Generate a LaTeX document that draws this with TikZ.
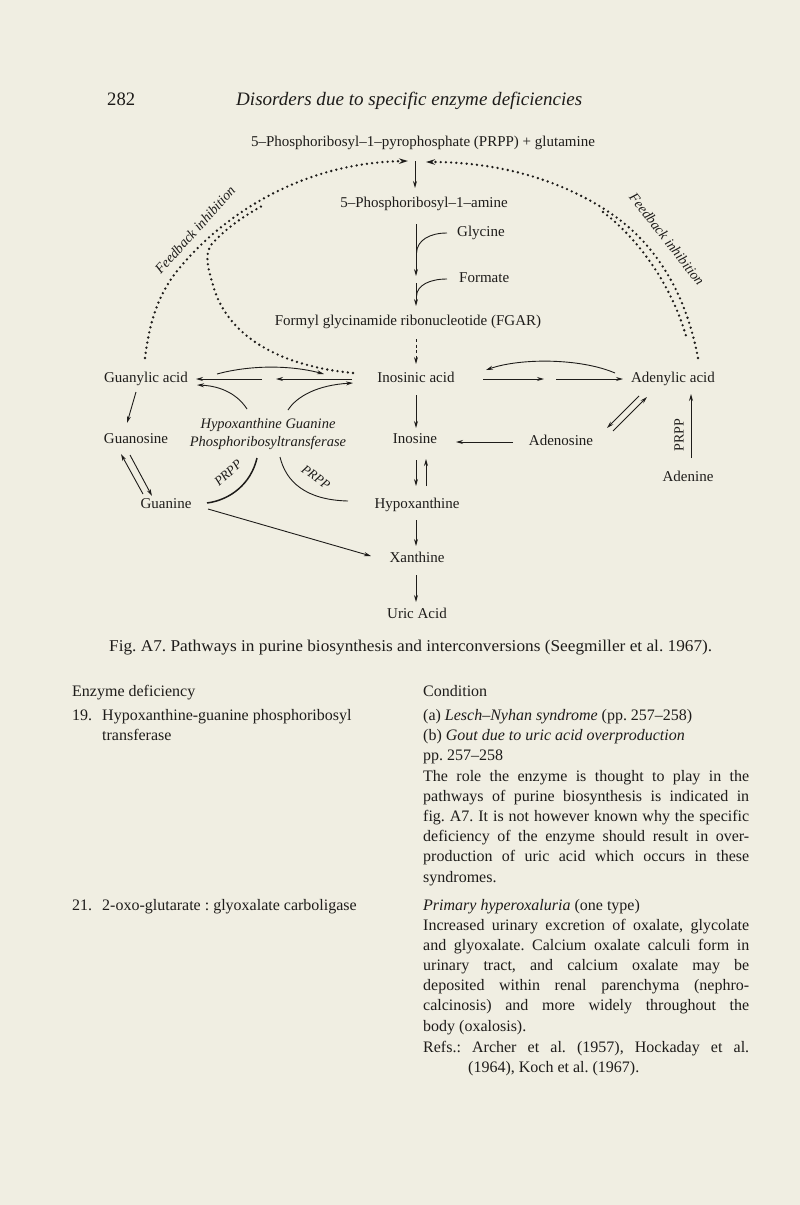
\documentclass[tikz,border=0pt]{standalone}
\usepackage{fontspec}
\setmainfont{Liberation Serif}
\usepackage{graphicx}
\usetikzlibrary{arrows.meta}
\definecolor{paper}{RGB}{240,238,226}
\definecolor{ink}{RGB}{30,28,26}
\frenchspacing
\begin{document}
\begin{tikzpicture}[x=1pt,y=-1pt,
  every node/.style={inner sep=0pt, text=ink},
  lbl/.style={font=\fontsize{15}{18}\selectfont, text height=10pt, text depth=3pt},
  body/.style={font=\fontsize{16}{20}\selectfont, anchor=base west},
  conn/.style={draw=ink, line width=0.9pt, -{Stealth[length=7pt,width=4pt]}},
  lineonly/.style={draw=ink, line width=0.9pt},
  fb/.style={draw=ink, line width=2.6pt, line cap=round, dash pattern=on 0pt off 5.2pt},
  fbtip/.style={-{Stealth[length=9pt,width=5.5pt]}},
  fblabel/.style={font=\fontsize{14}{16}\selectfont\itshape},
  prlabel/.style={font=\fontsize{13}{15}\selectfont\itshape},
]
\fill[paper] (0,0) rectangle (800,1205);
\useasboundingbox (0,0) rectangle (800,1205);

% ---------- running head ----------
\node[anchor=base west, font=\fontsize{19}{22}\selectfont] (pageno) at (107,105) {\resizebox{28pt}{\height}{282}};
\node[anchor=base west, font=\fontsize{19}{22}\selectfont\itshape] (runhead) at (236,105) {\resizebox{346pt}{\height}{Disorders due to specific enzyme deficiencies}};

% ---------- diagram nodes ----------
\node[lbl] (prpp) at (423,143) {5–Phosphoribosyl–1–pyrophosphate (PRPP) + glutamine};
\node[lbl] (amine) at (424,204) {5–Phosphoribosyl–1–amine};
\node[lbl, anchor=west] (glycine) at (457,233) {Glycine};
\node[lbl, anchor=west] (formate) at (459,279) {Formate};
\node[lbl] (fgar) at (408,322) {Formyl glycinamide ribonucleotide (FGAR)};
\node[lbl] (guanylic) at (146,379) {Guanylic acid};
\node[lbl] (inosinic) at (416,379) {Inosinic acid};
\node[lbl] (adenylic) at (673,379) {Adenylic acid};
\node[lbl] (guanosine) at (136,440) {Guanosine};
\node[font=\fontsize{14.5}{18}\selectfont\itshape, align=center] (hgprt) at (268,434) {Hypoxanthine Guanine\\Phosphoribosyltransferase};
\node[lbl] (inosine) at (415,440) {Inosine};
\node[lbl] (adenosine) at (561,442) {Adenosine};
\node[lbl] (adenine) at (688,478) {Adenine};
\node[lbl] (guanine) at (166,505) {Guanine};
\node[lbl] (hypox) at (417,505) {Hypoxanthine};
\node[lbl] (xanthine) at (417,559) {Xanthine};
\node[lbl] (uric) at (417,615) {Uric Acid};

% ---------- main pathway ----------
\coordinate (a1) at (415,161); \coordinate (a2) at (415,188);
\draw[conn] (a1) -- (a2);
\coordinate (b1) at (416,224); \coordinate (b2) at (416,276);
\draw[conn] (b1) -- (b2);
\coordinate (g1) at (447,233); \coordinate (g2) at (416.5,253);
\draw[lineonly] (g1) .. controls (430,233) and (417,240) .. (g2);
\coordinate (b3) at (416,283); \coordinate (b4) at (416,306);
\draw[conn] (b3) -- (b4);
\coordinate (f1) at (447,279); \coordinate (f2) at (416.5,296);
\draw[lineonly] (f1) .. controls (430,279) and (417,285) .. (f2);
\coordinate (d1) at (416,339); \coordinate (d2) at (416,364);
\draw[conn, dash pattern=on 3pt off 2.5pt] (d1) -- (d2);

% ---------- guanylic <-> inosinic ----------
\coordinate (ga1) at (217,374); \coordinate (ga2) at (324,374);
\draw[conn] (ga1) .. controls (250,365) and (290,365) .. (ga2);
\coordinate (gm1) at (262,379); \coordinate (gm2) at (196,379);
\draw[conn] (gm1) -- (gm2);
\coordinate (gm3) at (352,379); \coordinate (gm4) at (276,379);
\draw[conn] (gm3) -- (gm4);
\coordinate (gb1) at (247,409); \coordinate (gb2) at (197,385);
\draw[conn] (gb1) .. controls (238,395) and (222,386) .. (gb2);
\coordinate (gb3) at (288,410); \coordinate (gb4) at (353,383);
\draw[conn] (gb3) .. controls (297,396) and (318,385) .. (gb4);

% ---------- guanine branch ----------
\coordinate (gu1) at (136,392); \coordinate (gu2) at (127,423);
\draw[conn] (gu1) -- (gu2);
\coordinate (gs1) at (143,494); \coordinate (gs2) at (121,454);
\draw[conn] (gs1) -- (gs2);
\coordinate (gs3) at (130,455); \coordinate (gs4) at (152,496);
\draw[conn] (gs3) -- (gs4);
\coordinate (gx1) at (208,509); \coordinate (gx2) at (371,556);
\draw[conn] (gx1) -- (gx2);

% ---------- PRPP arcs ----------
\coordinate (pl1) at (257,458); \coordinate (pl2) at (207,503);
\draw[draw=ink, line width=1.5pt] (pl1) .. controls (251,484) and (230,500) .. (pl2);
\node[prlabel, rotate=42] (prl) at (228,473) {PRPP};
\coordinate (pr1) at (280,457); \coordinate (pr2) at (348,501);
\draw[lineonly] (pr1) .. controls (286,482) and (306,500) .. (pr2);
\node[prlabel, rotate=-36] (prr) at (316,477) {PRPP};

% ---------- inosine column ----------
\coordinate (i1) at (416,395); \coordinate (i2) at (416,428);
\draw[conn] (i1) -- (i2);
\coordinate (h1) at (416,460); \coordinate (h2) at (416,486);
\draw[conn] (h1) -- (h2);
\coordinate (h3) at (426,486); \coordinate (h4) at (426,459);
\draw[conn] (h3) -- (h4);
\coordinate (x1) at (416,520); \coordinate (x2) at (416,546);
\draw[conn] (x1) -- (x2);
\coordinate (u1) at (416,575); \coordinate (u2) at (416,602);
\draw[conn] (u1) -- (u2);

% ---------- adenylic side ----------
\coordinate (ad1) at (483,379); \coordinate (ad2) at (544,379);
\draw[conn] (ad1) -- (ad2);
\coordinate (ad3) at (556,379); \coordinate (ad4) at (623,379);
\draw[conn] (ad3) -- (ad4);
\coordinate (ab1) at (615,373); \coordinate (ab2) at (486,370);
\draw[conn] (ab1) .. controls (580,358) and (520,358) .. (ab2);
\coordinate (as1) at (639,396); \coordinate (as2) at (607,428);
\draw[conn] (as1) -- (as2);
\coordinate (as3) at (613,431); \coordinate (as4) at (647,397);
\draw[conn] (as3) -- (as4);
\coordinate (ai1) at (513,442); \coordinate (ai2) at (456,442);
\draw[conn] (ai1) -- (ai2);
\coordinate (an1) at (691,458); \coordinate (an2) at (691,394);
\draw[conn] (an1) -- (an2);
\node[font=\fontsize{14}{16}\selectfont, rotate=90] (prv) at (679,435) {PRPP};

% ---------- feedback inhibition ----------
\coordinate (fa0) at (145,358); \coordinate (fa1) at (408,161);
\draw[fb, fbtip] (fa0) .. controls (150,318) and (160,290) .. (182,265) .. controls (215,226) and (290,163) .. (fa1);
\coordinate (fb0) at (353,373); \coordinate (fb1) at (262,206);
\draw[fb] (fb0) .. controls (270,365) and (225,330) .. (213,285) .. controls (207,265) and (205,255) .. (211,245) .. controls (222,232) and (240,218) .. (fb1);
\node[fblabel, rotate=48] (fbl) at (195,230) {Feedback inhibition};
\coordinate (fr0) at (698,358); \coordinate (fr1) at (426,162);
\draw[fb, fbtip] (fr0) .. controls (688,305) and (665,255) .. (620,220) .. controls (575,186) and (510,162) .. (fr1);
\coordinate (fs0) at (603,212); \coordinate (fs1) at (686,336);
\draw[fb] (fs0) .. controls (640,240) and (672,287) .. (fs1);
\node[fblabel, rotate=-52] (fbr) at (667,239) {Feedback inhibition};

% ---------- caption ----------
\node[anchor=base west, font=\fontsize{16.5}{20}\selectfont] (caption) at (109,651) {\resizebox{603pt}{\height}{Fig. A7. Pathways in purine biosynthesis and interconversions (Seegmiller et al. 1967).}};

% ---------- table, left column ----------
\node[body] (t1) at (72,696) {Enzyme deficiency};
\node[body] (t2n) at (72,720) {19.};
\node[body] (t2) at (102,720) {Hypoxanthine-guanine phosphoribosyl};
\node[body] (t3) at (102,740) {transferase};
\node[body] (t4n) at (72,910) {21.};
\node[body] (t4) at (102,910) {2-oxo-glutarate : glyoxalate carboligase};

% ---------- table, right column ----------
\node[body] (r1) at (423,696) {Condition};
\node[body] (r2) at (423,720) {(a) \textit{Lesch–Nyhan syndrome} (pp. 257–258)};
\node[body] (r3) at (423,740) {(b) \textit{Gout due to uric acid overproduction}};
\node[body] (r4) at (423,760) {pp. 257–258};
\node[body] (r5) at (423,781) {\makebox[326pt][s]{The role the enzyme is thought to play in the}};
\node[body] (r6) at (423,801) {\makebox[326pt][s]{pathways of purine biosynthesis is indicated in}};
\node[body] (r7) at (423,821) {\makebox[326pt][s]{fig. A7. It is not however known why the specific}};
\node[body] (r8) at (423,841) {\makebox[326pt][s]{deficiency of the enzyme should result in over-}};
\node[body] (r9) at (423,861) {\makebox[326pt][s]{production of uric acid which occurs in these}};
\node[body] (r10) at (423,882) {syndromes.};
\node[body] (s1) at (423,910) {\textit{Primary hyperoxaluria} (one type)};
\node[body] (s2) at (423,930) {\makebox[326pt][s]{Increased urinary excretion of oxalate, glycolate}};
\node[body] (s3) at (423,950) {\makebox[326pt][s]{and glyoxalate. Calcium oxalate calculi form in}};
\node[body] (s4) at (423,970) {\makebox[326pt][s]{urinary tract, and calcium oxalate may be}};
\node[body] (s5) at (423,990) {\makebox[326pt][s]{deposited within renal parenchyma (nephro-}};
\node[body] (s6) at (423,1010) {\makebox[326pt][s]{calcinosis) and more widely throughout the}};
\node[body] (s7) at (423,1031) {body (oxalosis).};
\node[body] (s8) at (423,1052) {\makebox[326pt][s]{Refs.: Archer et al. (1957), Hockaday et al.}};
\node[body] (s9) at (468,1072) {(1964), Koch et al. (1967).};
\end{tikzpicture}
\end{document}
